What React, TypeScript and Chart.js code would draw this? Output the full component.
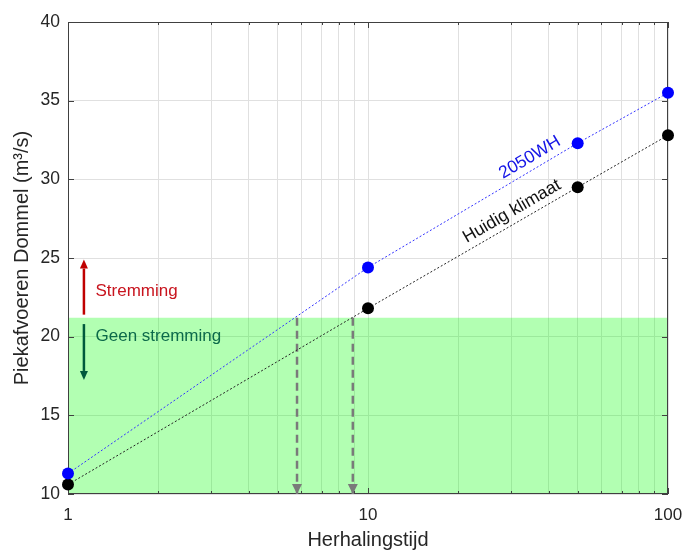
import React, { useEffect, useRef } from "react";
import { Chart, registerables } from "chart.js";

Chart.register(...registerables);

// Return periods (years) and peak discharges (m3/s)
const returnPeriods = [1, 10, 50, 100];
const currentClimate = [10.6, 21.8, 29.5, 32.8];
const climate2050WH = [11.3, 24.4, 32.3, 35.5];

// Threshold below which no backwater ("stremming") occurs
const thresholdDischarge = 21.2;
const axisMinDischarge = 10;

// Return periods where each series crosses the threshold
const crossingReturnPeriods = [5.8, 8.9];

// Axis ticks
const xMajorTicks = [1, 10, 100];
const xAllTicks = [1, 2, 3, 4, 5, 6, 7, 8, 9, 10, 20, 30, 40, 50, 60, 70, 80, 90, 100];
const yTicks = [10, 15, 20, 25, 30, 35, 40];

// Side annotation: arrows and labels for the two regimes
const regimeArrowX = 1.13;
const stremmingArrow = [21.4, 24.9];
const geenStremmingArrow = [20.8, 17.25];
const regimeLabelX = 1.235;
const stremmingLabelY = 22.9;
const geenStremmingLabelY = 20.0;

// Where the series names sit along their lines
const label2050X = 36.3;
const labelCurrentX = 31.6;

const FONT = "'Liberation Sans', Arial, Helvetica, sans-serif";
const AXIS_COLOR = "#262626";

function pts(xs: number[], ys: number[]) {
  return xs.map((x, i) => ({ x, y: ys[i] }));
}

export default function App() {
  const canvasRef = useRef<HTMLCanvasElement | null>(null);

  useEffect(() => {
    document.body.style.margin = "0";
    const canvas = canvasRef.current;
    if (!canvas) return;

    const annotations = {
      id: "annotations",
      beforeDatasetsDraw(chart: any) {
        const { ctx, chartArea: a, scales } = chart;
        const xs = scales.x;
        ctx.save();
        // axes box
        ctx.strokeStyle = "#404040";
        ctx.lineWidth = 1;
        ctx.strokeRect(a.left + 0.5, a.top + 0.5, a.right - a.left - 1, a.bottom - a.top - 1);
        // inward tick marks
        ctx.beginPath();
        xAllTicks.forEach((v) => {
          const px = Math.round(xs.getPixelForValue(v)) + 0.5;
          const len = xMajorTicks.includes(v) ? 6 : 3;
          ctx.moveTo(px, a.bottom);
          ctx.lineTo(px, a.bottom - len);
          ctx.moveTo(px, a.top);
          ctx.lineTo(px, a.top + len);
        });
        yTicks.forEach((v) => {
          const py = Math.round(scales.y.getPixelForValue(v)) + 0.5;
          ctx.moveTo(a.left, py);
          ctx.lineTo(a.left + 6, py);
          ctx.moveTo(a.right, py);
          ctx.lineTo(a.right - 6, py);
        });
        ctx.stroke();
        ctx.restore();
      },
      afterDatasetsDraw(chart: any) {
        const { ctx, scales } = chart;
        const xs = scales.x;
        const ys = scales.y;
        ctx.save();

        const arrow = (x: number, y0: number, y1: number, color: string, width: number, head: number, headW: number) => {
          const px = xs.getPixelForValue(x);
          const p0 = ys.getPixelForValue(y0);
          const p1 = ys.getPixelForValue(y1);
          const dir = p1 > p0 ? 1 : -1;
          ctx.strokeStyle = color;
          ctx.fillStyle = color;
          ctx.lineWidth = width;
          ctx.setLineDash([]);
          ctx.beginPath();
          ctx.moveTo(px, p0);
          ctx.lineTo(px, p1 - dir * head);
          ctx.stroke();
          ctx.beginPath();
          ctx.moveTo(px, p1);
          ctx.lineTo(px - headW / 2, p1 - dir * head);
          ctx.lineTo(px + headW / 2, p1 - dir * head);
          ctx.closePath();
          ctx.fill();
        };

        // regime arrows
        arrow(regimeArrowX, stremmingArrow[0], stremmingArrow[1], "#c00000", 2.5, 9, 8);
        arrow(regimeArrowX, geenStremmingArrow[0], geenStremmingArrow[1], "#005a3c", 2.5, 9, 8);

        // arrowheads at the bottom of the dashed drop lines
        crossingReturnPeriods.forEach((x) => {
          const px = xs.getPixelForValue(x);
          const py = ys.getPixelForValue(axisMinDischarge);
          ctx.fillStyle = "#7a7a7a";
          ctx.beginPath();
          ctx.moveTo(px, py);
          ctx.lineTo(px - 5, py - 10);
          ctx.lineTo(px + 5, py - 10);
          ctx.closePath();
          ctx.fill();
        });

        // regime labels
        ctx.font = `17px ${FONT}`;
        ctx.textAlign = "left";
        ctx.textBaseline = "middle";
        ctx.fillStyle = "#c8141e";
        ctx.fillText("Stremming", xs.getPixelForValue(regimeLabelX), ys.getPixelForValue(stremmingLabelY));
        ctx.fillStyle = "#0c6a4a";
        ctx.fillText("Geen stremming", xs.getPixelForValue(regimeLabelX), ys.getPixelForValue(geenStremmingLabelY));

        // series names along their lines
        const lineLabel = (text: string, series: number[], atX: number, color: string) => {
          const xA = xs.getPixelForValue(returnPeriods[1]);
          const yA = ys.getPixelForValue(series[1]);
          const xB = xs.getPixelForValue(returnPeriods[2]);
          const yB = ys.getPixelForValue(series[2]);
          const angle = Math.atan2(yB - yA, xB - xA);
          const px = xs.getPixelForValue(atX);
          const py = yA + ((px - xA) * (yB - yA)) / (xB - xA);
          ctx.save();
          ctx.translate(px, py);
          ctx.rotate(angle);
          ctx.font = `17.5px ${FONT}`;
          ctx.fillStyle = color;
          ctx.textAlign = "center";
          ctx.textBaseline = "middle";
          ctx.fillText(text, 0, -12);
          ctx.restore();
        };
        lineLabel("2050WH", climate2050WH, label2050X, "#1414e6");
        lineLabel("Huidig klimaat", currentClimate, labelCurrentX, "#111111");

        ctx.restore();
      },
    };

    const chart = new Chart(canvas, {
      type: "line",
      data: {
        datasets: [
          {
            label: "Geen stremming",
            data: [
              { x: xMajorTicks[0], y: thresholdDischarge },
              { x: xMajorTicks[xMajorTicks.length - 1], y: thresholdDischarge },
            ],
            borderWidth: 0,
            borderColor: "rgba(0,0,0,0)",
            pointRadius: 0,
            backgroundColor: "rgba(0,255,0,0.3)",
            fill: { value: axisMinDischarge },
            order: 10,
          },
          ...crossingReturnPeriods.map((x) => ({
            label: "drop",
            data: [
              { x, y: thresholdDischarge },
              { x, y: axisMinDischarge },
            ],
            borderColor: "#7a7a7a",
            borderWidth: 2.5,
            borderDash: [8, 5],
            pointRadius: 0,
            fill: false,
            order: 5,
          })),
          {
            label: "Huidig klimaat",
            data: pts(returnPeriods, currentClimate),
            borderColor: "#222222",
            borderWidth: 1,
            borderDash: [2, 2],
            pointRadius: 6,
            pointBackgroundColor: "#000000",
            pointBorderWidth: 0,
            fill: false,
            clip: false as any,
            order: 1,
          },
          {
            label: "2050WH",
            data: pts(returnPeriods, climate2050WH),
            borderColor: "#3333ff",
            borderWidth: 1,
            borderDash: [2, 2],
            pointRadius: 6,
            pointBackgroundColor: "#0000ff",
            pointBorderWidth: 0,
            fill: false,
            clip: false as any,
            order: 0,
          },
        ],
      },
      options: {
        animation: false,
        responsive: true,
        maintainAspectRatio: false,
        layout: { padding: { left: 0, top: 22, right: 14, bottom: 0 } },
        plugins: {
          legend: { display: false },
          tooltip: { enabled: false },
          filler: { drawTime: "beforeDatasetsDraw" },
        } as any,
        scales: {
          x: {
            type: "logarithmic",
            min: 1,
            max: 100,
            afterBuildTicks(scale: any) {
              scale.ticks = xAllTicks.map((v) => ({ value: v, major: xMajorTicks.includes(v) }));
            },
            afterFit(scale: any) {
              scale.height = 56;
              scale.paddingLeft = 0;
              scale.paddingRight = 0;
            },
            grid: { color: "#e0e0e0", lineWidth: 1, drawTicks: false },
            border: { display: false },
            ticks: {
              autoSkip: false,
              maxRotation: 0,
              padding: 11,
              color: AXIS_COLOR,
              font: { family: FONT, size: 17 },
              callback: (v: any) => (xMajorTicks.includes(Number(v)) ? String(v) : ""),
            },
            title: {
              display: true,
              text: "Herhalingstijd",
              color: AXIS_COLOR,
              font: { family: FONT, size: 20, lineHeight: 1 },
              padding: { top: 0, bottom: 0 },
            },
          },
          y: {
            type: "linear",
            min: 10,
            max: 40,
            afterBuildTicks(scale: any) {
              scale.ticks = yTicks.map((v) => ({ value: v }));
            },
            afterFit(scale: any) {
              scale.width = 68;
            },
            grid: { color: "#e0e0e0", lineWidth: 1, drawTicks: false },
            border: { display: false },
            ticks: {
              padding: 8,
              color: AXIS_COLOR,
              font: { family: FONT, size: 17.5 },
            },
            title: {
              display: true,
              text: "Piekafvoeren Dommel (m³/s)",
              color: AXIS_COLOR,
              font: { family: FONT, size: 20, lineHeight: 1 },
              padding: { top: 12.5, bottom: 0 },
            },
          },
        },
      },
      plugins: [annotations],
    });

    return () => chart.destroy();
  }, []);

  return (
    <div style={{ position: "absolute", left: 0, top: 0, width: 682, height: 550, background: "#ffffff" }}>
      <canvas ref={canvasRef} />
    </div>
  );
}
